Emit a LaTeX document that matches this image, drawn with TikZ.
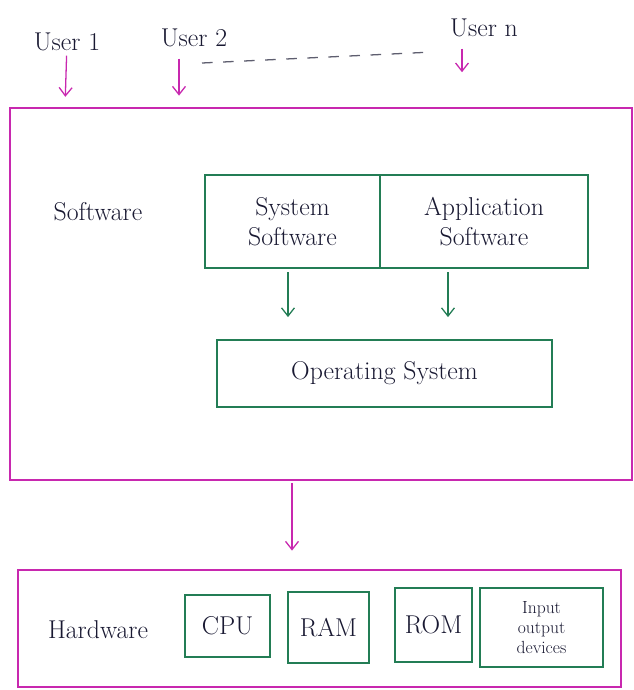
\documentclass[tikz,border=0pt]{standalone}
\usepackage{tikz}
\usetikzlibrary{arrows.meta, positioning}

\definecolor{penpink}{RGB}{200,40,175}
\definecolor{pengreen}{RGB}{35,125,85}
\definecolor{penink}{RGB}{25,25,50}

\begin{document}
\begin{tikzpicture}[->,>={Straight Barb[length=7pt,width=11pt]},x=0.03cm,y=-0.03cm,line width=1.1pt,
                    font=\fontsize{22}{26}\selectfont, text=penink]

  \useasboundingbox (0,0) rectangle (633,690);
  \tikzstyle{layer} = [draw=penpink, inner sep=0pt]
  \tikzstyle{part}  = [draw=pengreen, inner sep=0pt, align=center]
  \tikzstyle{pinkarrow} = [draw=penpink]
  \tikzstyle{greenarrow} = [draw=pengreen]

  % users
  \node (user1) at (67,42)  {User 1};
  \node (user2) at (194,38) {User 2};
  \node (usern) at (484,28) {User n};
  \coordinate (dashA) at (202,63);
  \coordinate (dashB) at (433,52);

  % software layer
  \node[layer, minimum width=18.66cm, minimum height=11.16cm] (sw) at (321,294) {};
  \node (swlabel) at (98,212) {Software};
  \node[part, minimum width=5.25cm, minimum height=2.79cm] (sys) at (292.5,221.5) {System\\Software};
  \node[part, minimum width=6.24cm, minimum height=2.79cm] (app) [right=-1.1pt of sys] {Application\\Software};
  \node[part, minimum width=10.05cm, minimum height=2.01cm] (os) at (384.5,373.5) {Operating System};

  % hardware layer
  \node[layer, minimum width=18.09cm, minimum height=3.51cm] (hw) at (319.5,628.5) {};
  \node (hwlabel) at (98,630) {Hardware};
  \node[part, minimum width=2.55cm, minimum height=1.86cm] (cpu) at (227.5,626) {CPU};
  \node[part, minimum width=2.43cm, minimum height=2.13cm] (ram) at (328.5,627.5) {RAM};
  \node[part, minimum width=2.31cm, minimum height=2.22cm] (rom) at (433.5,625) {ROM};
  \node[part, minimum width=3.69cm, minimum height=2.37cm,
        font=\fontsize{15}{17}\selectfont] (io) at (541.5,627.5) {Input\\output\\devices};

  \draw[pinkarrow, shorten >=9pt] (user1) -- (sw.north -| 65,0);
  \draw[pinkarrow, shorten >=10pt, shorten <=6pt] (user2.south -| 179,0) -- (sw.north -| 179,0);
  \draw[pinkarrow, shorten >=30pt, shorten <=6pt] (usern.south -| 462,0) -- (sw.north -| 462,0);
  \draw[-, penink!70, dashed, dash pattern=on 9pt off 9pt] (dashA) -- (dashB);

  \draw[greenarrow, shorten >=19pt, shorten <=3pt] (sys.south -| 288,0) -- (os.north -| 288,0);
  \draw[greenarrow, shorten >=19pt, shorten <=3pt] (app.south -| 448,0) -- (os.north -| 448,0);

  \draw[pinkarrow, shorten >=16pt, shorten <=2pt] (sw.south -| 292,0) -- (hw.north -| 292,0);

\end{tikzpicture}
\end{document}
